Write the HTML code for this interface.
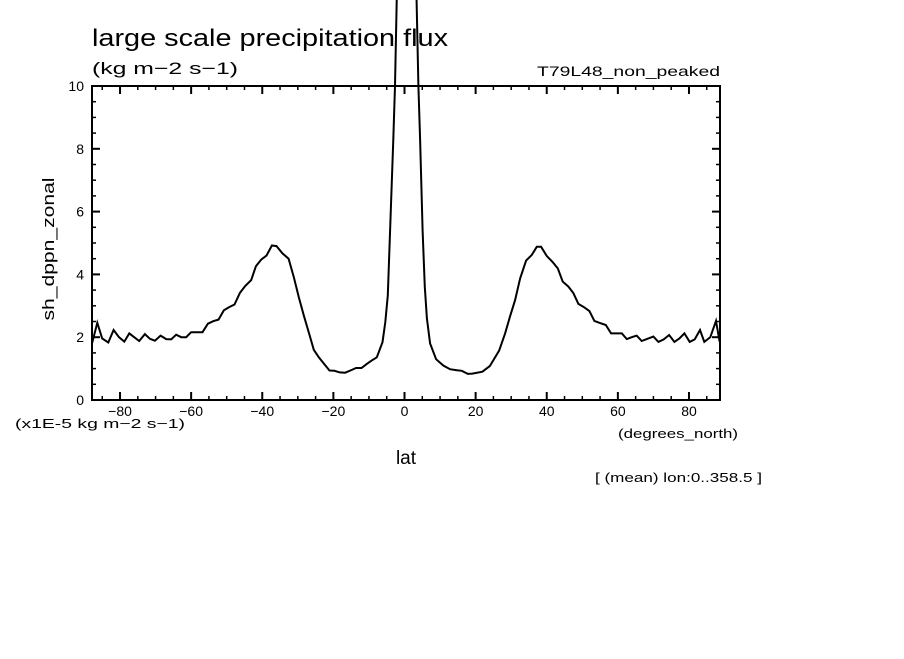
<!DOCTYPE html>
<html><head><meta charset="utf-8"><style>
html,body{margin:0;padding:0;background:#fff;}
svg text{font-family:"Liberation Sans",sans-serif;fill:#000;}
</style></head><body>
<svg id="chart" width="904" height="654" viewBox="0 0 904 654" xmlns="http://www.w3.org/2000/svg">
<defs></defs>
<text x="92" y="46" font-size="24" textLength="356" lengthAdjust="spacingAndGlyphs">large scale precipitation flux</text>
<text x="92" y="74" font-size="17" textLength="146" lengthAdjust="spacingAndGlyphs">(kg m−2 s−1)</text>
<text x="537" y="76" font-size="14" textLength="183" lengthAdjust="spacingAndGlyphs">T79L48_non_peaked</text>
<text transform="translate(54,249) rotate(-90)" font-size="17" text-anchor="middle" textLength="143" lengthAdjust="spacingAndGlyphs">sh_dppn_zonal</text>
<text x="15" y="428" font-size="13" textLength="170" lengthAdjust="spacingAndGlyphs">(x1E-5 kg m−2 s−1)</text>
<text x="618" y="438" font-size="13" textLength="120" lengthAdjust="spacingAndGlyphs">(degrees_north)</text>
<text x="406" y="464" font-size="19" text-anchor="middle">lat</text>
<text x="595" y="482" font-size="13" textLength="167" lengthAdjust="spacingAndGlyphs">[ (mean) lon:0..358.5 ]</text>
<g id="axes"></g>
<g id="series"></g>
</svg>
<script>
const lats = [-88.6,-88,-86.4,-85,-83.3,-81.8,-80.3,-78.8,-77.4,-76,-74.6,-73,-71.6,-70.2,-68.6,-67,-65.6,-64.2,-62.8,-61.4,-60,-58.4,-56.8,-55.3,-53.8,-52.3,-50.8,-49.3,-47.8,-46.3,-44.8,-43.1,-41.8,-40.3,-38.8,-37.3,-36,-34.3,-32.6,-31.1,-29.7,-28.3,-26.9,-25.5,-24.1,-22.6,-21.1,-19.7,-18.2,-16.7,-15.2,-13.6,-12.1,-10.6,-9.2,-7.8,-6.2,-5.4,-4.7,-3.15,-2.67,-2.2,-0.75,0.75,3.4,3.9,4.4,5.1,5.7,6.3,7.2,8.9,10.9,12.8,14.7,16.1,17.8,19.1,21.9,24,26.6,28.3,29.7,31.1,32.5,34.2,35.8,37.2,38.4,40,41.6,43.1,44.5,46.1,47.5,48.9,50.6,52,53.4,54.8,56.6,58.1,59.5,61.1,62.5,63.9,65.3,66.7,68.3,70,71.4,72.9,74.4,75.9,77.3,78.7,80.2,81.6,83.1,84.3,86,87.6,88.6];
const values = [2.0,1.75,2.46,1.96,1.83,2.23,2.0,1.86,2.12,2.0,1.88,2.1,1.95,1.89,2.05,1.94,1.93,2.08,2.0,2.0,2.16,2.16,2.16,2.43,2.51,2.56,2.86,2.96,3.04,3.41,3.63,3.82,4.26,4.47,4.6,4.92,4.9,4.67,4.5,3.9,3.26,2.68,2.15,1.6,1.36,1.15,0.94,0.93,0.88,0.87,0.94,1.02,1.02,1.15,1.26,1.36,1.84,2.48,3.33,8.3,10,12.7,40,40,12.7,10,8.3,5.4,3.6,2.6,1.8,1.3,1.1,0.98,0.95,0.93,0.83,0.84,0.9,1.08,1.57,2.12,2.67,3.18,3.87,4.44,4.62,4.88,4.88,4.59,4.4,4.19,3.77,3.61,3.4,3.06,2.95,2.83,2.52,2.46,2.39,2.12,2.12,2.12,1.94,2.0,2.05,1.88,1.95,2.02,1.85,1.93,2.07,1.85,1.96,2.12,1.85,1.93,2.23,1.85,2.0,2.52,1.86];
const xTicks = [-80,-60,-40,-20,0,20,40,60,80];
const yTicks = [0,2,4,6,8,10];

const X0=92, X1=720, Y0=400, Y1=86, VMIN=0, VMAX=10;
const xs = l => 404.5 + l*3.556;
const ys = v => Y0 - (v-VMIN)/(VMAX-VMIN)*(Y0-Y1);
const NS="http://www.w3.org/2000/svg";
const axes=document.getElementById('axes'), series=document.getElementById('series');
function mk(tag,attrs,parent){const e=document.createElementNS(NS,tag);for(const k in attrs)e.setAttribute(k,attrs[k]);parent.appendChild(e);return e;}
const frame=mk('rect',{x:X0,y:Y1,width:X1-X0,height:Y0-Y1,fill:'none',stroke:'#000','stroke-width':2},axes);


for(let l=-85;l<=85;l+=5){
  const major = l%20===0;
  const len = major?8:4;
  const x=xs(l);
  const t1=mk('line',{x1:x,x2:x,y1:Y0,y2:Y0-len,stroke:'#000','stroke-width':major?2:1.5},axes);
  
  
  const t2=mk('line',{x1:x,x2:x,y1:Y1,y2:Y1+len,stroke:'#000','stroke-width':major?2:1.5},axes);
  
  
}
xTicks.forEach(l=>{
  const t=mk('text',{x:xs(l),y:416,'font-size':14,'text-anchor':'middle'},axes);
  t.textContent = l<0 ? '−'+Math.abs(l) : String(l);
  
  
});
for(let v=0.5;v<10;v+=0.5){
  const major = Math.abs(v%2)<1e-9;
  const len = major?8:4;
  const y=ys(v);
  const t1=mk('line',{x1:X0,x2:X0+len,y1:y,y2:y,stroke:'#000','stroke-width':major?2:1.5},axes);
  
  
  const t2=mk('line',{x1:X1,x2:X1-len,y1:y,y2:y,stroke:'#000','stroke-width':major?2:1.5},axes);
  
  
}
yTicks.forEach(v=>{
  const t=mk('text',{x:84,y:ys(v)+5,'font-size':14,'text-anchor':'end'},axes);
  t.textContent=String(v);
  
  
});
const clipAll = document.createElementNS(NS,'clipPath');
clipAll.setAttribute('id','clip2');
document.querySelector('defs').appendChild(clipAll);
mk('rect',{x:X0,y:-100,width:X1-X0,height:Y0+100},clipAll);
series.setAttribute('clip-path','url(#clip2)');
const d = lats.map((l,i)=>(i?'L':'M')+xs(l).toFixed(1)+','+ys(values[i]).toFixed(1)).join(' ');
const line=mk('path',{d:d,fill:'none',stroke:'#000','stroke-width':2,'stroke-linejoin':'miter'},series);


</script>
</body></html>
